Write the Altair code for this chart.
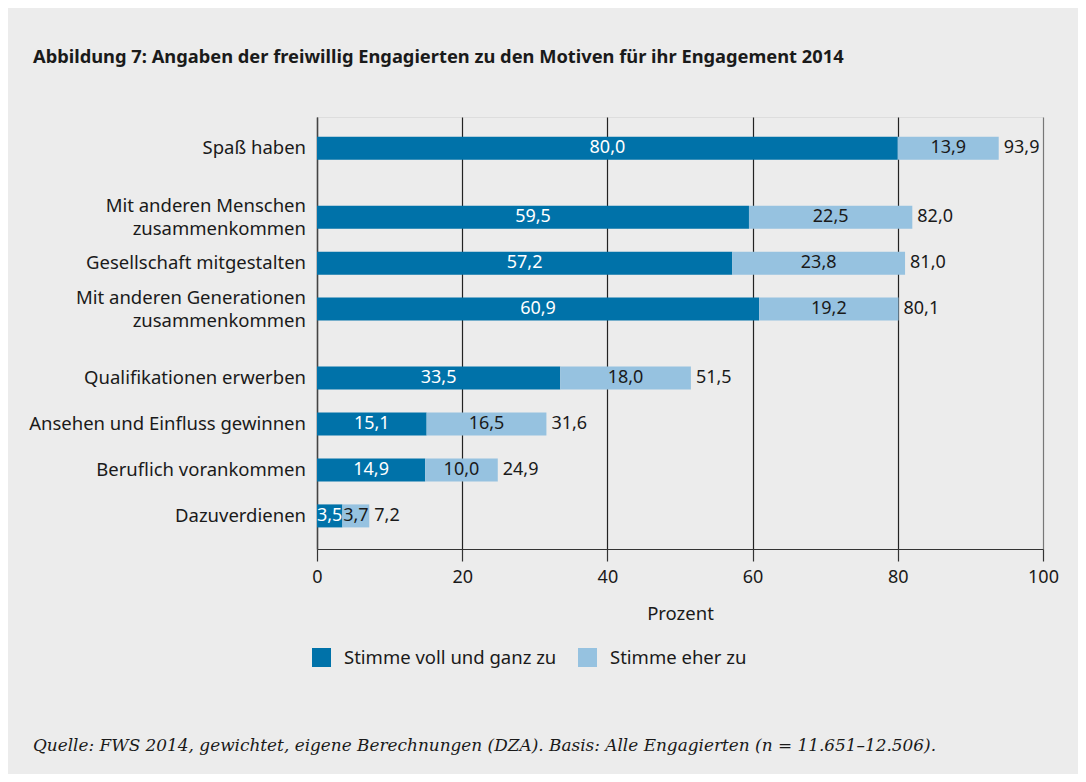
import altair as alt
import pandas as pd

categories = [
    "Spaß haben",
    "Mit anderen Menschen\nzusammenkommen",
    "Gesellschaft mitgestalten",
    "Mit anderen Generationen\nzusammenkommen",
    "Qualifikationen erwerben",
    "Ansehen und Einfluss gewinnen",
    "Beruflich vorankommen",
    "Dazuverdienen",
]
groups = [0, 1, 1, 1, 2, 2, 2, 2]
voll = [80.0, 59.5, 57.2, 60.9, 33.5, 15.1, 14.9, 3.5]
eher = [13.9, 22.5, 23.8, 19.2, 18.0, 16.5, 10.0, 3.7]
total = [93.9, 82.0, 81.0, 80.1, 51.5, 31.6, 24.9, 7.2]
series = ["Stimme voll und ganz zu", "Stimme eher zu"]
colors = ["#0072a9", "#96c2e0"]
x_ticks = [0, 20, 40, 60, 80, 100]

TITLE = "Abbildung 7: Angaben der freiwillig Engagierten zu den Motiven für ihr Engagement 2014"
SOURCE = "Quelle: FWS 2014, gewichtet, eigene Berechnungen (DZA). Basis: Alle Engagierten (n = 11.651–12.506)."

def fmt(v):
    return f"{v:.1f}".replace(".", ",")

# row position: index plus half a step gap between groups
pos = [i + 0.5 * g for i, g in enumerate(groups)]
# multi-line labels: shift so the text block is centred on the bar
nlines = [c.count("\n") + 1 for c in categories]
lab_pos = [p - 0.24 * (n - 1) for p, n in zip(pos, nlines)]

rows = []
for c, p, v, e in zip(categories, pos, voll, eher):
    rows.append(dict(cat=c, pos=p, series=series[0], start=0.0, end=v, mid=v / 2, label=fmt(v)))
    rows.append(dict(cat=c, pos=p, series=series[1], start=v, end=v + e, mid=v + e / 2, label=fmt(e)))
df = pd.DataFrame(rows)
df_tot = pd.DataFrame(dict(cat=categories, pos=pos, lab_pos=lab_pos, total=total,
                           label=[fmt(t) for t in total]))

FONT = "Noto Sans"
TXT = "#1a1a1a"
LBL = 18.5
NUM = 18

yscale = alt.Scale(domain=[-0.68, 8.72], reverse=True, padding=0, nice=False, zero=False)
xscale = alt.Scale(domain=[0, 100], nice=False, padding=0)

bars = alt.Chart(df).mark_bar(size=23).encode(
    x=alt.X("start:Q", scale=xscale, axis=alt.Axis(
        values=x_ticks, title="Prozent", grid=True, labelFlush=False,
        gridColor={"condition": {"test": "datum.value === 100 || datum.value === 0", "value": "#777777"}, "value": "#222222"},
        gridWidth=1.2,
        tickSize=12, tickColor="#333333", tickWidth=1.2,
        domainColor="#333333", domainWidth=1.2,
        labelFontSize=NUM, labelColor=TXT, labelPadding=7, labelFont=FONT,
        titleFontSize=LBL, titleColor=TXT, titleFontWeight="normal", titlePadding=18, titleFont=FONT,
    )),
    x2="end:Q",
    y=alt.Y("pos:Q", scale=yscale, axis=alt.Axis(
        title=None, labels=False, ticks=False, grid=False,
        domainColor="#444444", domainWidth=1.5,
    )),
    color=alt.Color("series:N", scale=alt.Scale(domain=series, range=colors), legend=alt.Legend(
        title=None, orient="none", legendX=-5, legendY=531, direction="horizontal",
        symbolType="square", symbolSize=361, symbolStrokeWidth=0,
        labelFontSize=LBL, labelColor=TXT, labelFont=FONT, labelOffset=13, labelLimit=0,
        columnPadding=21, padding=0,
    )),
)

inner = alt.Chart(df).mark_text(fontSize=NUM, font=FONT, baseline="middle").encode(
    x=alt.X("mid:Q", scale=xscale),
    y=alt.Y("pos:Q", scale=yscale),
    text="label:N",
    color=alt.Color("series:N", scale=alt.Scale(domain=series, range=["#ffffff", TXT]), legend=None),
)

tot = alt.Chart(df_tot).mark_text(fontSize=NUM, font=FONT, align="left", baseline="middle", dx=5, color=TXT).encode(
    x=alt.X("total:Q", scale=xscale),
    y=alt.Y("pos:Q", scale=yscale),
    text="label:N",
)

ylabels = alt.Chart(df_tot).mark_text(fontSize=LBL, font=FONT, align="right", baseline="middle",
                                      lineBreak="\n", lineHeight=23, color=TXT).encode(
    x=alt.value(-11),
    y=alt.Y("lab_pos:Q", scale=yscale),
    text="cat:N",
)

title = alt.Chart(pd.DataFrame({"t": [TITLE]})).mark_text(
    fontSize=18.3, font=FONT, fontWeight="bold", align="left", baseline="alphabetic", color=TXT
).encode(x=alt.value(-284), y=alt.value(-54), text="t:N")

source = alt.Chart(pd.DataFrame({"t": [SOURCE]})).mark_text(
    fontSize=16.9, font="DejaVu Serif", fontStyle="italic", align="left", baseline="alphabetic", color=TXT
).encode(x=alt.value(-284), y=alt.value(634), text="t:N")

chart = alt.layer(bars, inner, tot, ylabels, title, source).resolve_scale(color="independent").properties(
    width=726, height=432,
    autosize=alt.AutoSizeParams(type="none"),
    padding={"left": 309, "top": 109, "right": 35, "bottom": 225},
    background="#ececec",
).configure_view(stroke="#777777", strokeWidth=1.5).configure(font=FONT)

chart.save("out.html", embed_options={"renderer": "svg", "actions": False})
